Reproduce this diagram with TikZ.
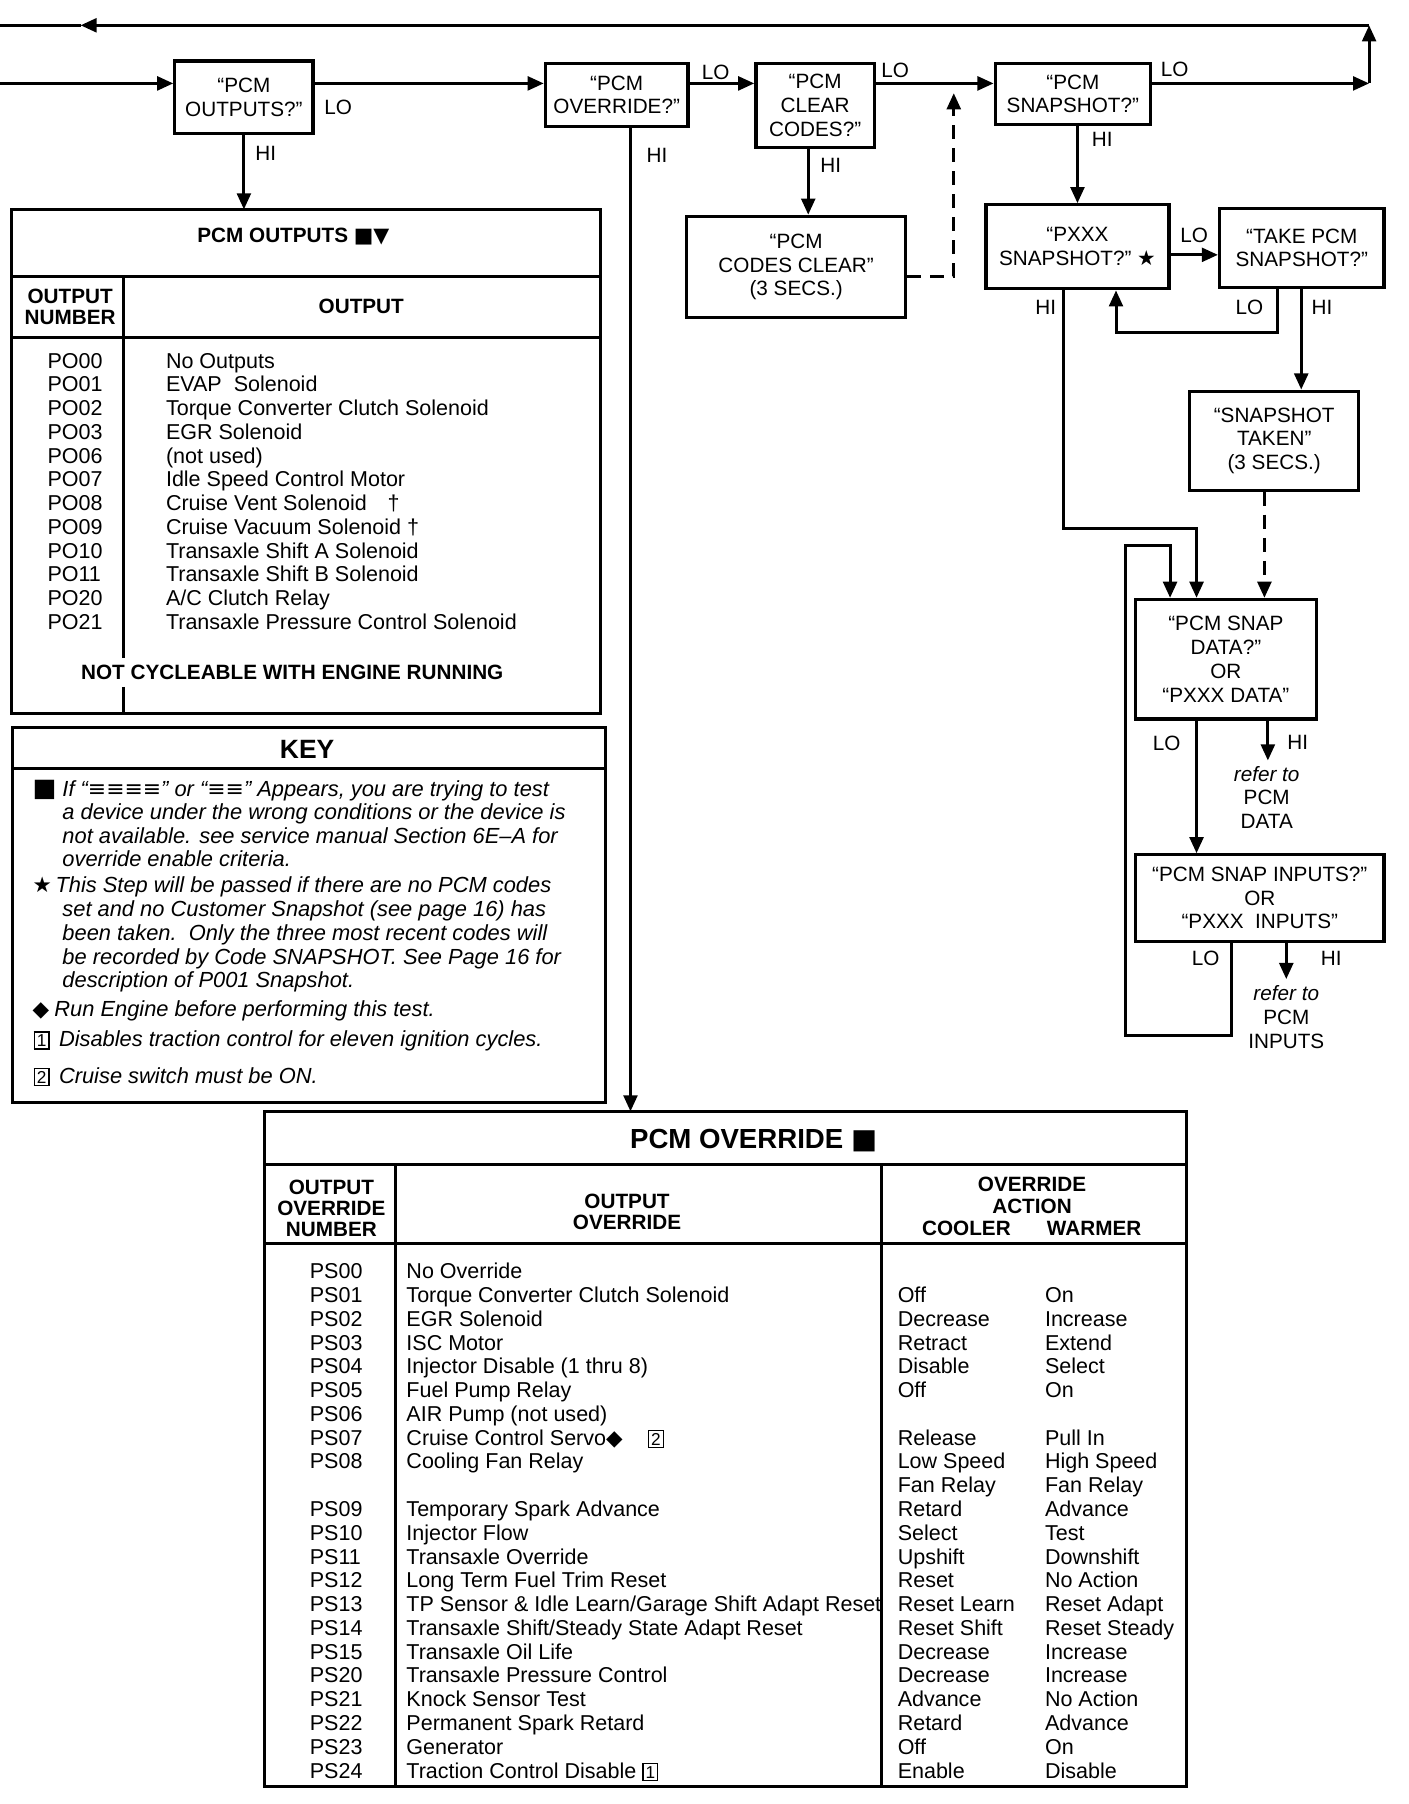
\documentclass[tikz,border=0pt]{standalone}
\usepackage{fontspec}
\setmainfont{Liberation Sans}
\newfontfamily\symf{DejaVu Sans}
\usetikzlibrary{calc, positioning}
\usetikzlibrary{arrows.meta}

\newcommand\fs{\fontsize{9}{10.3}\selectfont}
\newcommand\fr{\fontsize{9.35}{10.3}\selectfont}
\newcommand\bxn[1]{{\setlength\fboxsep{0.8pt}\setlength\fboxrule{0.6pt}\fbox{\fontsize{7.5}{7.5}\selectfont #1}}}

\tikzset{
  arr/.style={-{Triangle[length=7pt,width=6pt]}},
  box/.style={draw, line width=1.4pt, inner sep=0pt, align=center},
  lbl/.style={inner sep=0pt},
  rowtxt/.style={anchor=west, inner sep=0pt, text height=6.4pt, text depth=0pt, font=\fr},
  keytxt/.style={rowtxt, font=\fontsize{9.5}{10.3}\selectfont\itshape},
  hdr/.style={inner sep=0pt, align=center, font=\fontsize{9}{9.2}\selectfont\bfseries},
  dsh/.style={dash pattern=on 6pt off 4pt},
}

\begin{document}
\begin{tikzpicture}[x=0.5pt, y=-0.5pt, line width=1.3pt, font=\fs]
      \useasboundingbox (0,0) rectangle (1224,1568);
      \def\rs{20.67}

      \node[box, minimum width=60pt, minimum height=31.5pt] (outq) at (212,84.5) {“PCM\\OUTPUTS?”};
      \node[box, minimum width=62pt, minimum height=27.5pt] (ovrq) at (536,82.5) {“PCM\\OVERRIDE?”};
      \node[box, minimum width=51.5pt, minimum height=36.5pt] (clrq) at (708.5,91.5) {“PCM\\CLEAR\\CODES?”};
      \node[box, minimum width=67.5pt, minimum height=26.5pt] (snapq) at (932.5,81.5) {“PCM\\SNAPSHOT?”};
      \node[box, minimum width=95pt, minimum height=44pt] (clrd) at (692,232) {“PCM\\CODES CLEAR”\\(3 SECS.)};
      \node[box, minimum width=79.5pt, minimum height=36.5pt] (pxxx) at (936.5,214.5) {“PXXX\\SNAPSHOT?” {\symf ★}};
      \node[box, minimum width=71.5pt, minimum height=34.5pt] (take) at (1131.5,215.5) {“TAKE PCM\\SNAPSHOT?”};
      \node[box, minimum width=73.5pt, minimum height=43pt] (taken) at (1107.5,383) {“SNAPSHOT\\TAKEN”\\(3 SECS.)};
      \node[box, minimum width=78.5pt, minimum height=52pt] (sdata) at (1065.5,573) {“PCM SNAP\\DATA?”\\OR\\“PXXX DATA”};
      \node[box, minimum width=108pt, minimum height=37.5pt] (sinp) at (1095,780.5) {“PCM SNAP INPUTS?”\\OR\\“PXXX\ \ INPUTS”};

      \coordinate (mainrow) at (0,72.5);
      \coordinate (rcorner) at (1190,72.5);
      \coordinate (ret) at (1190,22);
      \coordinate (rettip) at (70,22);
      \coordinate (retend) at (0,22);
      \draw[arr] (mainrow) -- (mainrow -| outq.west);
      \draw[arr] (outq.east |- mainrow) -- (ovrq.west |- mainrow);
      \draw[arr] (ovrq.east |- mainrow) -- (clrq.west |- mainrow);
      \draw[arr] (clrq.east |- mainrow) -- (snapq.west |- mainrow);
      \draw[arr] (snapq.east |- mainrow) -- (rcorner);
      \draw[arr] (rcorner) -- (ret);
      \draw[arr] (ret) -- (rettip);
      \draw (rettip) -- (retend);

      \coordinate (tabp) at (212,182);
      \coordinate (tabo) at (548,966);
      \draw[arr] (outq.south) -- (tabp);
      \draw[arr] (ovrq.south -| tabo) -- (tabo);
      \draw[arr] ([xshift=-3pt]clrq.south) -- ([xshift=-3pt]clrq.south |- clrd.north);
      \coordinate (dup) at (829,81);
      \draw[arr, dsh] ([yshift=-4pt]clrd.east) -| (dup);
      \draw[arr] (pxxx.north |- snapq.south) -- (pxxx.north);
      \draw[arr] ([yshift=-3.5pt]pxxx.east) -- ([yshift=-3.5pt]pxxx.east -| take.west);
      \coordinate (lo7) at (1110,289);
      \coordinate (fb) at (970,289);
      \draw[arr] (take.south -| lo7) -- (lo7) -- (fb) -- (fb |- pxxx.south);
      \coordinate (hi7) at (1131,0);
      \draw[arr] (take.south -| hi7) -- (taken.north -| hi7);
      \coordinate (dd) at (1099,0);
      \draw[arr, dsh] (taken.south -| dd) -- (sdata.north -| dd);
      \coordinate (hiturn) at (1040,459);
      \draw[arr] ([xshift=-6pt]pxxx.south) |- (hiturn) -- (hiturn |- sdata.north);
      \coordinate (lpbot) at (1070,900);
      \coordinate (lpleft) at (978,900);
      \coordinate (lptop) at (978,474);
      \coordinate (lpin) at (1017,474);
      \draw[arr] (sinp.south -| lpbot) -- (lpbot) -- (lpleft) -- (lptop) -- (lpin) -- (lpin |- sdata.north);
      \draw[arr] (sdata.south -| hiturn) -- (sinp.north -| hiturn);
      \coordinate (hi9) at (1102,661);
      \coordinate (hi10) at (1118,851);
      \draw[arr] (sdata.south -| hi9) -- (hi9);
      \draw[arr] (sinp.south -| hi10) -- (hi10);

      \node[lbl] (lo1) at (294,93) {LO};
      \node[lbl] (hi1) at (231,133) {HI};
      \node[lbl] (lo2) at (622,63) {LO};
      \node[lbl] (hi2) at (571,135) {HI};
      \node[lbl] (lo3) at (778,61) {LO};
      \node[lbl] (hi3) at (722,144) {HI};
      \node[lbl] (lo4) at (1021,60) {LO};
      \node[lbl] (hi4) at (958,121) {HI};
      \node[lbl] (lo6) at (1038,205) {LO};
      \node[lbl] (hi6) at (909,267) {HI};
      \node[lbl] (lo7l) at (1086,267) {LO};
      \node[lbl] (hi7l) at (1149,267) {HI};
      \node[lbl] (lo9) at (1014,646) {LO};
      \node[lbl] (hi9l) at (1128,645) {HI};
      \node[lbl] (lo10) at (1048,833) {LO};
      \node[lbl] (hi10l) at (1157,833) {HI};
      \node[lbl, align=center] (ref9) at (1101,693) {\textit{refer to}\\PCM\\DATA};
      \node[lbl, align=center] (ref10) at (1118,884) {\textit{refer to}\\PCM\\INPUTS};

      \draw[line width=1.4pt] (10,182) rectangle (522,620);
      \draw (10,240) -- (522,240) (10,293) -- (522,293) (107,240) -- (107,572) (107,597) -- (107,620);
      \node[hdr] (tpo) at (255,206) {PCM OUTPUTS {\symf ■▼}};
      \node[hdr] (hnum) at (61,267) {OUTPUT\\NUMBER};
      \node[hdr] (hout) at (314,266) {OUTPUT};
      \foreach \c/\t [count=\i from 0] in {PO00/No Outputs, PO01/EVAP\ \ Solenoid,
          PO02/Torque Converter Clutch Solenoid, PO03/EGR Solenoid, PO06/(not used),
          PO07/Idle Speed Control Motor, PO08/{Cruise Vent Solenoid\hspace{9pt}†},
          PO09/{Cruise Vacuum Solenoid †}, PO10/Transaxle Shift A Solenoid,
          PO11/Transaxle Shift B Solenoid, PO20/{A/C Clutch Relay},
          PO21/Transaxle Pressure Control Solenoid}{
        \node[rowtxt] (po\i) at (40,{313.5+\i*20.65}) {\c};
        \node[rowtxt] (pt\i) at (143,{313.5+\i*20.65}) {\t};
      }
      \node[hdr] (ncy) at (254,584) {NOT CYCLEABLE WITH ENGINE RUNNING};

      \draw[line width=1.4pt] (11,632) rectangle (526,958);
      \draw (11,668) -- (526,668);
      \node[hdr, font=\fontsize{11.5}{12}\selectfont\bfseries] (kt) at (267,651) {KEY};
      \node[rowtxt] (km1) at (27,686) {\fontsize{11}{11}\selectfont\symf ■};
      \node[keytxt] (k1) at (53,686) {If “{\symf\upshape ≡≡≡≡}” or “{\symf\upshape ≡≡}” Appears, you are trying to test};
      \node[keytxt] (k2) at (53,706) {a device under the wrong conditions or the device is};
      \node[keytxt] (k3) at (53,727) {not available. see service manual Section 6E–A for};
      \node[keytxt] (k4) at (53,747) {override enable criteria.};
      \node[rowtxt] (km2) at (27,769) {\symf ★};
      \node[keytxt] (k5) at (47,769) {This Step will be passed if there are no PCM codes};
      \node[keytxt] (k6) at (53,790) {set and no Customer Snapshot (see page 16) has};
      \node[keytxt] (k7) at (53,811) {been taken.\ \ Only the three most recent codes will};
      \node[keytxt] (k8) at (53,832) {be recorded by Code SNAPSHOT. See Page 16 for};
      \node[keytxt] (k9) at (53,852) {description of P001 Snapshot.};
      \node[rowtxt] (km3) at (27,877) {\symf ◆};
      \node[keytxt] (k10) at (46,877) {Run Engine before performing this test.};
      \node[rowtxt] (km4) at (28,903) {\bxn{1}};
      \node[keytxt] (k11) at (50,903) {Disables traction control for eleven ignition cycles.};
      \node[rowtxt] (km5) at (28,935) {\bxn{2}};
      \node[keytxt] (k12) at (50,935) {Cruise switch must be ON.};

      \draw[line width=1.4pt] (230,966) rectangle (1031,1553);
      \draw (230,1012) -- (1031,1012) (230,1081) -- (1031,1081) (344,1012) -- (344,1553) (766,1012) -- (766,1553);
      \node[hdr, font=\fontsize{12}{13}\selectfont\bfseries] (tov) at (655,991) {PCM OVERRIDE {\symf ■}};
      \node[hdr] (hon) at (288,1050) {OUTPUT\\OVERRIDE\\NUMBER};
      \node[hdr] (hoo) at (545,1053) {OUTPUT\\OVERRIDE};
      \node[hdr] (hoa) at (897,1039) {OVERRIDE\\ACTION};
      \node[hdr] (hco) at (840,1068) {COOLER};
      \node[hdr] (hwa) at (951,1068) {WARMER};
      \foreach \r/\c/\t in {0/PS00/No Override, 1/PS01/Torque Converter Clutch Solenoid,
          2/PS02/EGR Solenoid, 3/PS03/ISC Motor, 4/PS04/Injector Disable (1 thru 8),
          5/PS05/Fuel Pump Relay, 6/PS06/AIR Pump (not used),
          7/PS07/{Cruise Control Servo{\symf ◆}\hspace{11pt}\bxn{2}}, 8/PS08/Cooling Fan Relay,
          10/PS09/Temporary Spark Advance, 11/PS10/Injector Flow, 12/PS11/Transaxle Override,
          13/PS12/Long Term Fuel Trim Reset, 14/PS13/{TP Sensor \& Idle Learn/Garage Shift Adapt Reset},
          15/PS14/{Transaxle Shift/Steady State Adapt Reset}, 16/PS15/Transaxle Oil Life,
          17/PS20/Transaxle Pressure Control, 18/PS21/Knock Sensor Test,
          19/PS22/Permanent Spark Retard, 20/PS23/Generator, 21/PS24/{Traction Control Disable \bxn{1}}}{
        \node[rowtxt] (psc\r) at (268,{1105+\r*\rs}) {\c};
        \node[rowtxt] (pst\r) at (352,{1105+\r*\rs}) {\t};
      }
      \foreach \r/\k/\w in {1/Off/On, 2/Decrease/Increase, 3/Retract/Extend, 4/Disable/Select,
          5/Off/On, 7/Release/Pull In, 8/Low Speed/High Speed, 9/Fan Relay/Fan Relay,
          10/Retard/Advance, 11/Select/Test, 12/Upshift/Downshift, 13/Reset/No Action,
          14/Reset Learn/Reset Adapt, 15/Reset Shift/Reset Steady, 16/Decrease/Increase,
          17/Decrease/Increase, 18/Advance/No Action, 19/Retard/Advance, 20/Off/On,
          21/Enable/Disable}{
        \node[rowtxt] (cool\r) at (779,{1105+\r*\rs}) {\k};
        \node[rowtxt] (warm\r) at (907,{1105+\r*\rs}) {\w};
      }
    \end{tikzpicture}
\end{document}
